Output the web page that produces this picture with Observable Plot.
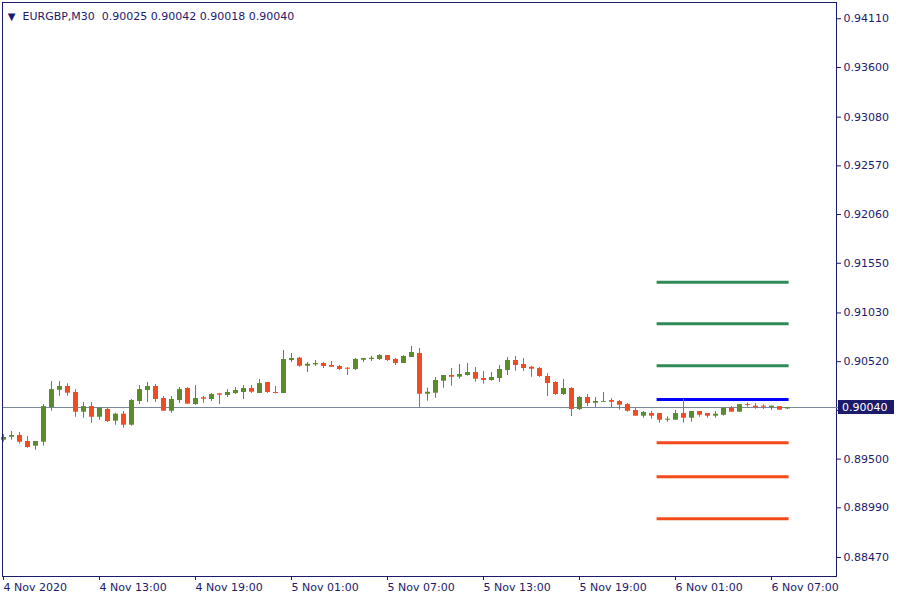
<!DOCTYPE html>
<html><head><meta charset="utf-8">
<script src="https://cdn.jsdelivr.net/npm/d3@7"></script>
<script src="https://cdn.jsdelivr.net/npm/@observablehq/plot@0.6"></script>
<style>body{margin:0;background:#fff} svg{display:block}</style>
</head><body><div id="chart"></div>
<script>
const symbol = "EURGBP,M30";
const open = [0.89698,0.89729,0.89747,0.89684,0.89635,0.89677,0.90040,0.90221,0.90260,0.90197,
0.89991,0.90050,0.89938,0.90019,0.89897,0.89970,0.89855,0.90103,0.90218,0.90260,
0.90134,0.90001,0.90113,0.90239,0.90071,0.90142,0.90124,0.90183,0.90166,0.90187,
0.90197,0.90239,0.90187,0.90302,0.90197,0.90187,0.90532,0.90556,0.90472,0.90487,
0.90501,0.90480,0.90469,0.90451,0.90438,0.90535,0.90543,0.90543,0.90584,0.90543,
0.90501,0.90564,0.90605,0.90179,0.90190,0.90315,0.90375,0.90357,0.90375,0.90406,
0.90344,0.90323,0.90344,0.90427,0.90532,0.90490,0.90462,0.90448,0.90365,0.90302,
0.90176,0.90239,0.90019,0.90145,0.90085,0.90095,0.90113,0.90103,0.90071,0.90009,
0.89949,0.89977,0.89977,0.89907,0.89907,0.89977,0.89928,0.89998,0.89977,0.89949,
0.89959,0.90033,0.89991,0.90071,0.90054,0.90054,0.90040,0.90050,0.90025];
const high = [0.89757,0.89789,0.89778,0.89736,0.89684,0.90071,0.90312,0.90312,0.90288,0.90228,
0.90092,0.90092,0.90033,0.90030,0.89980,0.89998,0.90124,0.90270,0.90302,0.90281,
0.90155,0.90155,0.90249,0.90249,0.90270,0.90155,0.90187,0.90187,0.90228,0.90249,
0.90270,0.90270,0.90333,0.90302,0.90260,0.90637,0.90605,0.90564,0.90511,0.90532,
0.90511,0.90522,0.90480,0.90459,0.90553,0.90553,0.90577,0.90595,0.90584,0.90553,
0.90584,0.90679,0.90658,0.90242,0.90354,0.90375,0.90448,0.90490,0.90501,0.90459,
0.90417,0.90406,0.90480,0.90564,0.90574,0.90553,0.90469,0.90459,0.90396,0.90312,
0.90333,0.90249,0.90155,0.90176,0.90145,0.90197,0.90134,0.90113,0.90082,0.90033,
0.89998,0.89998,0.89977,0.89943,0.90009,0.90124,0.89998,0.89998,0.89977,0.89998,
0.90033,0.90050,0.90071,0.90089,0.90082,0.90068,0.90054,0.90050,0.90042];
const low = [0.89677,0.89698,0.89656,0.89614,0.89593,0.89635,0.90001,0.90158,0.90158,0.89938,
0.89928,0.89876,0.89907,0.89883,0.89855,0.89823,0.89844,0.90071,0.90092,0.90092,
0.90001,0.89980,0.90082,0.90075,0.90061,0.90082,0.90103,0.90071,0.90145,0.90176,
0.90124,0.90187,0.90187,0.90187,0.90183,0.90187,0.90511,0.90462,0.90406,0.90469,
0.90448,0.90459,0.90427,0.90375,0.90427,0.90511,0.90522,0.90532,0.90522,0.90480,
0.90501,0.90564,0.90040,0.90106,0.90137,0.90242,0.90263,0.90336,0.90368,0.90305,
0.90284,0.90315,0.90302,0.90375,0.90420,0.90417,0.90357,0.90354,0.90155,0.90166,
0.90166,0.89946,0.90009,0.90050,0.90040,0.90095,0.90040,0.90012,0.89991,0.89949,
0.89928,0.89918,0.89876,0.89886,0.89907,0.89876,0.89886,0.89938,0.89928,0.89928,
0.89949,0.89991,0.89991,0.90043,0.90022,0.90019,0.90009,0.90012,0.90018];
const close = [0.89726,0.89747,0.89677,0.89621,0.89684,0.90050,0.90228,0.90260,0.90190,0.89991,
0.90050,0.89938,0.90033,0.89893,0.89970,0.89855,0.90113,0.90228,0.90260,0.90124,
0.90001,0.90124,0.90228,0.90075,0.90134,0.90127,0.90176,0.90169,0.90197,0.90218,
0.90239,0.90200,0.90291,0.90197,0.90187,0.90543,0.90553,0.90472,0.90493,0.90501,
0.90469,0.90462,0.90438,0.90441,0.90543,0.90553,0.90556,0.90584,0.90532,0.90501,
0.90574,0.90616,0.90179,0.90200,0.90323,0.90375,0.90357,0.90386,0.90406,0.90336,
0.90323,0.90354,0.90438,0.90532,0.90480,0.90448,0.90441,0.90365,0.90291,0.90176,
0.90239,0.90019,0.90145,0.90082,0.90103,0.90103,0.90095,0.90064,0.90001,0.89949,
0.89988,0.89949,0.89907,0.89918,0.89977,0.89928,0.89998,0.89959,0.89949,0.89970,
0.90033,0.89991,0.90071,0.90061,0.90037,0.90043,0.90054,0.90012,0.90040];
const timeTickIndex = [0,12,24,36,48,60,72,84,96];
const timeTickLabels = ["4 Nov 2020","4 Nov 13:00","4 Nov 19:00","5 Nov 01:00","5 Nov 07:00","5 Nov 13:00","5 Nov 19:00","6 Nov 01:00","6 Nov 07:00"];
const priceTicks = [0.88470,0.88990,0.89500,0.90010,0.90520,0.91030,0.91550,0.92060,0.92570,0.93080,0.93600,0.94110];
const hiddenPriceTick = 0.90010; // covered by the current-price label
const resistanceLevels = [0.91352,0.90916,0.90477];
const pivotLevels = [0.90124];
const supportLevels = [0.89670,0.89314,0.88875];
const levelStart = 81.7, levelEnd = 98.2;

const GREEN = "#5a8c2d", RED = "#f04b23", NAVY = "#1b1a6b";
const candles = open.map((o,i)=>({i, o, h:high[i], l:low[i], c:close[i]}));
const up = candles.filter(d=>d.c>=d.o), down = candles.filter(d=>d.c<d.o);
const lvl = arr => arr.map(v=>({v, x1:levelStart, x2:levelEnd}));
const last = candles[candles.length-1];
const fmt = v => v.toFixed(5);
const title = symbol + "\u00a0\u00a0" + [last.o,last.h,last.l,last.c].map(fmt).join(" ");

const plot = Plot.plot({
  width: 900, height: 600,
  marginTop: 2, marginLeft: 2, marginRight: 64, marginBottom: 24,
  style: {fontFamily: "DejaVu Sans", fontSize: "11px", color: NAVY, background: "#fff"},
  x: {type: "linear", domain: [-0.125, 104.125]},
  y: {domain: [0.88271, 0.94280]},
  marks: [
    Plot.ruleY([last.c], {stroke: "#778899", strokeWidth: 1}),
    Plot.ruleY(lvl(resistanceLevels), {y: "v", x1: "x1", x2: "x2", stroke: "#2e8b57", strokeWidth: 3}),
    Plot.ruleY(lvl(pivotLevels), {y: "v", x1: "x1", x2: "x2", stroke: "#0000ff", strokeWidth: 3}),
    Plot.ruleY(lvl(supportLevels), {y: "v", x1: "x1", x2: "x2", stroke: "#f44a1a", strokeWidth: 3}),
    Plot.ruleX(up, {x: "i", y1: "l", y2: "h", stroke: GREEN, strokeWidth: 1}),
    Plot.ruleX(down, {x: "i", y1: "l", y2: "h", stroke: RED, strokeWidth: 1}),
    Plot.ruleX(up, {x: "i", y1: "o", y2: "c", stroke: GREEN, strokeWidth: 5}),
    Plot.ruleX(down, {x: "i", y1: "o", y2: "c", stroke: RED, strokeWidth: 5}),
    Plot.frame({stroke: NAVY}),
    Plot.axisX({anchor: "bottom", ticks: timeTickIndex, tickSize: 4, tickPadding: 3, textAnchor: "start",
      tickFormat: d => timeTickLabels[timeTickIndex.indexOf(d)], fill: NAVY, stroke: NAVY}),
    Plot.axisY({anchor: "right", ticks: priceTicks, tickSize: 4, tickPadding: 3,
      tickFormat: d => d === hiddenPriceTick ? "" : fmt(d), fill: NAVY, stroke: NAVY}),
    Plot.text(["\u25bc"], {frameAnchor: "top-left", dx: 9, dy: 10, fontSize: 10, fill: NAVY, textAnchor: "middle"}),
    Plot.text([title], {frameAnchor: "top-left", dx: 20, dy: 10, fill: NAVY, textAnchor: "start"})
  ]
});
document.getElementById("chart").appendChild(plot);

// current price label box on the price axis
const svg = d3.select(plot);
const yy = plot.scale("y").apply(last.c);
const xr = plot.scale("x").range[1];
const g = svg.append("g");
g.append("line").attr("x1", xr).attr("x2", xr + 3).attr("y1", Math.round(yy) + 0.5).attr("y2", Math.round(yy) + 0.5).attr("stroke", "#778899");
g.append("rect").attr("x", xr + 2).attr("y", yy - 7).attr("width", 56).attr("height", 14).attr("fill", NAVY);
g.append("text").attr("x", xr + 6).attr("y", yy).attr("dy", "0.35em").attr("fill", "#fff")
  .attr("text-anchor", "start").attr("font-family", "DejaVu Sans").attr("font-size", 11).text(fmt(last.c));
</script>
</body></html>
